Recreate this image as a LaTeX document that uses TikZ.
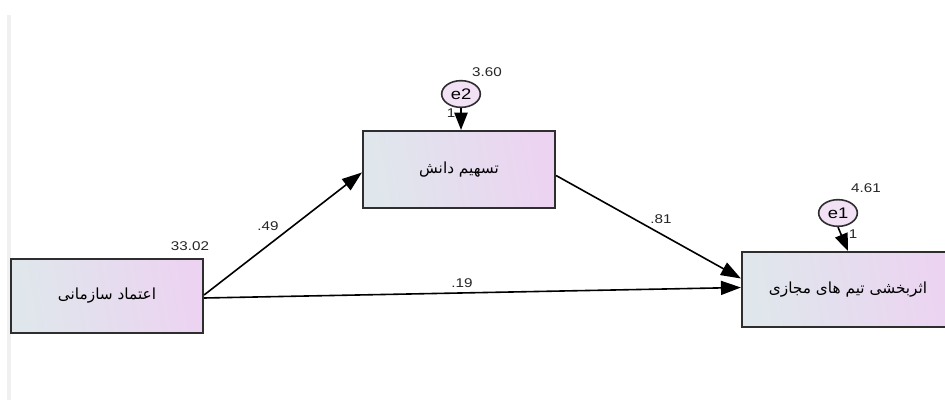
\documentclass[tikz,border=0pt]{standalone}
\usepackage{fontspec}
\setmainfont{Liberation Sans}
\newfontfamily\numfont[FakeStretch=1.2]{Liberation Sans}
\newfontfamily\arabicfont[Script=Arabic]{DejaVu Sans}
\TeXXeTstate=1
\usetikzlibrary{arrows.meta,calc,shapes.geometric}
\definecolor{boxleft}{HTML}{DFE7EC}
\definecolor{boxright}{HTML}{ECD3F1}
\definecolor{edge}{HTML}{2E2E2E}
\tikzset{
  x=0.75pt, y=-0.75pt,
  varbox/.style={rectangle, draw=edge, line width=1.6pt, left color=boxleft, right color=boxright, shading angle=100, inner sep=0pt, font=\arabicfont\fontsize{11.5}{13}\selectfont},
  errnode/.style={ellipse, draw=edge, line width=1.2pt, fill=boxright!70!white, minimum width=29pt, minimum height=20pt, inner sep=0pt, font=\numfont\fontsize{11.5}{13}\selectfont},
  lbl/.style={font=\numfont\fontsize{9.5}{11}\selectfont, text=black!85, inner sep=0pt},
  path/.style={line width=1.2pt, -{Triangle[length=15pt,width=10.5pt]}},
  errpath/.style={line width=1.2pt, -{Triangle[length=13pt,width=10pt]}},
}
\begin{document}
\begin{tikzpicture}
\clip (0,0) rectangle (945,406);
\useasboundingbox (0,0) rectangle (945,406);
\fill[white] (0,0) rectangle (945,406);
\fill[black!6] (7,15) rectangle (11,400);
% variable boxes
\node[varbox, minimum width=144pt, minimum height=55.5pt] (b1) at (107,296) {\beginR اعتماد سازمانی\endR};
\node[varbox, minimum width=144pt, minimum height=57.75pt] (b2) at (459,169.5) {\beginR تسهیم دانش\endR};
\node[varbox, minimum width=159pt, minimum height=56.25pt] (b3) at (848,289.5) {\beginR اثربخشی تیم های مجازی\endR};
% error terms
\node[errnode] (e2) at (461,94) {e2};
\node[errnode] (e1) at (838,213) {e1};
% paths
\draw[path] ($(b1.east)+(0,-1)$) -- ($(b2.west)+(0,3)$);
\draw[path] ($(b1.east)+(0,2)$) -- ($(b3.west)+(0,-2)$);
\draw[path] ($(b2.east)+(0,6)$) -- ($(b3.west)+(0,-11)$);
\draw[errpath] (e2.south) -- (b2.north -| e2.south);
\draw[errpath] (e1.south) -- ($(b3.north)+(0,0)$);
% labels
\node[lbl] (l360) at (487,72) {3.60};
\node[lbl] (l461) at (866,188) {4.61};
\node[lbl] (l3302) at (190,246) {33.02};
\node[lbl] (l49) at (268,226) {.49};
\node[lbl] (l81) at (661,219) {.81};
\node[lbl] (l19) at (462,283) {.19};
\node[lbl] (one2) at (451,113) {1};
\node[lbl] (one1) at (853,234) {1};
\end{tikzpicture}
\end{document}
